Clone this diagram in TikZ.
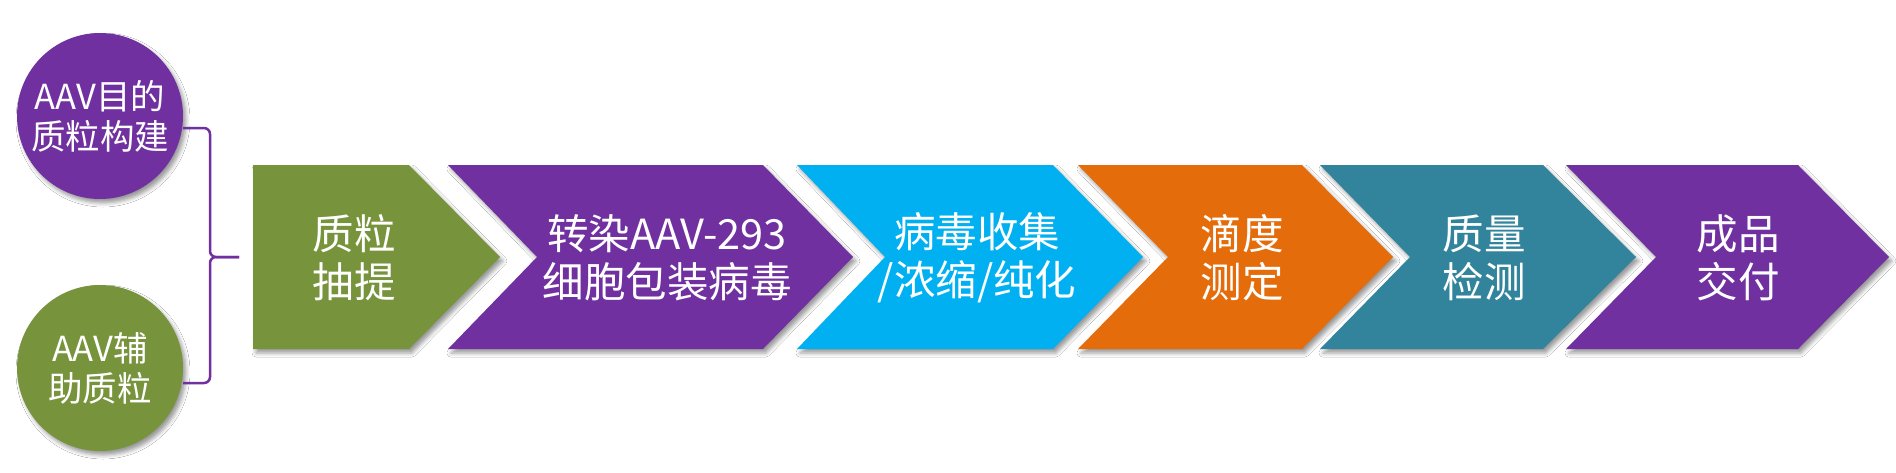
\documentclass[tikz,border=0pt]{standalone}
\usepackage{fontspec}
\setmainfont{Noto Sans CJK SC}
\usetikzlibrary{shadows.blur}
\definecolor{cgreen}{HTML}{77933C}
\definecolor{cpurple}{HTML}{7030A0}
\definecolor{ccyan}{HTML}{00B0F0}
\definecolor{corange}{HTML}{E46C0A}
\definecolor{cteal}{HTML}{31849B}
\begin{document}
\begin{tikzpicture}[x=1pt,y=-1pt,
  shadowed/.style={blur shadow={shadow xshift=3pt,shadow yshift=-4pt,shadow blur radius=4pt,shadow opacity=40}},
  steptext/.style={text=white,align=center,font=\fontsize{41.5}{48}\selectfont,inner sep=0pt},
  ballnode/.style={circle,minimum size=166pt,inner sep=0pt,text=white,align=center,
    font=\fontsize{34.5}{40}\selectfont,shadowed},
  bracket/.style={draw=cpurple,line width=2.5pt,rounded corners=6pt}]
\useasboundingbox (0,0) rectangle (1896,472);
\fill[white] (0,0) rectangle (1896,472);
% step shapes
\fill[cgreen,shadowed] (253,165) -- (409,165) -- (500,257) -- (409,349) -- (253,349) -- cycle;
\fill[cpurple,shadowed] (448,165) -- (763,165) -- (853,257) -- (763,349) -- (448,349) -- (537,257) -- cycle;
\fill[ccyan,shadowed] (797,165) -- (1053,165) -- (1143,257) -- (1053,349) -- (797,349) -- (885,257) -- cycle;
\fill[corange,shadowed] (1078,165) -- (1302,165) -- (1393,257) -- (1302,349) -- (1078,349) -- (1168,257) -- cycle;
\fill[cteal,shadowed] (1320,165) -- (1543,165) -- (1636,257) -- (1543,349) -- (1320,349) -- (1410,257) -- cycle;
\fill[cpurple,shadowed] (1566,165) -- (1798,165) -- (1889,257) -- (1798,349) -- (1566,349) -- (1656,257) -- cycle;
% step labels
\node[steptext] (s1) at (354,258) {质粒\\抽提};
\node[steptext] (s2) at (667,258) {转染AAV-293\\细胞包装病毒};
\node[steptext] (s3) at (977,258) {病毒收集\\/浓缩/纯化};
\node[steptext] (s4) at (1242,258) {滴度\\测定};
\node[steptext] (s5) at (1484,258) {质量\\检测};
\node[steptext] (s6) at (1738,258) {成品\\交付};
% circles
\node[ballnode,fill=cpurple] (c1) at (100,116) {AAV目的\\质粒构建};
\node[ballnode,fill=cgreen] (c2) at (100,368) {AAV辅\\助质粒};
% brace
\coordinate (bj) at (239,257);
\draw[bracket] ([yshift=-12pt]c1.east) -| ([xshift=-29pt]bj) -- (bj);
\draw[bracket] ([yshift=-15pt]c2.east) -| ([xshift=-29pt]bj) -- (bj);
\end{tikzpicture}
\end{document}
